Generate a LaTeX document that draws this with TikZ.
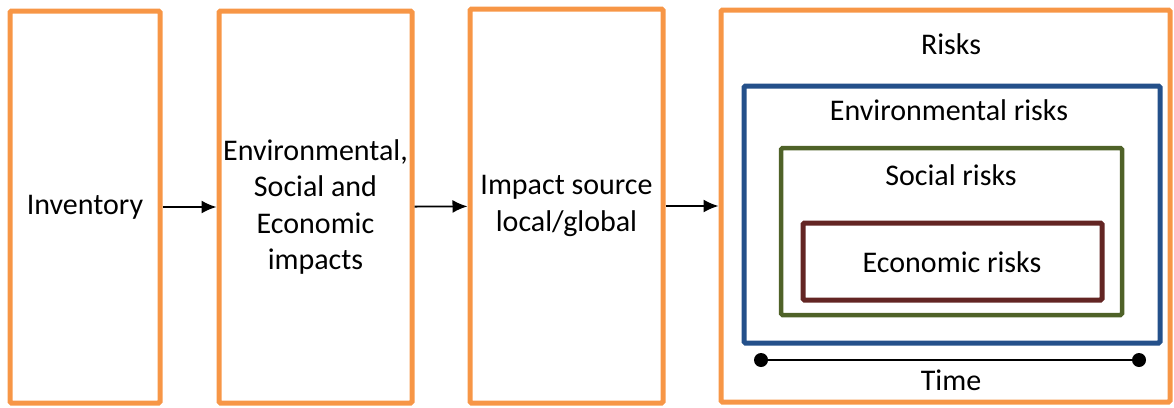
\documentclass[tikz,border=0pt]{standalone}
\usepackage{fontspec}
\setmainfont{Carlito}
\usepackage{tikz}
\usetikzlibrary{arrows.meta}

\definecolor{boxorange}{HTML}{F79646}
\definecolor{riskblue}{HTML}{24508A}
\definecolor{riskgreen}{HTML}{4F6228}
\definecolor{riskred}{HTML}{632523}

\begin{document}
\begin{tikzpicture}[x=1pt,y=-1pt]

	\tikzset{stage/.style = {shape=rectangle,draw=boxorange,line width=5pt,rounded corners=1.5pt,
			inner sep=0pt,align=center,font=\fontsize{30}{36.5}\selectfont}}
	\tikzset{riskbox/.style = {shape=rectangle,line width=5pt,rounded corners=1.5pt,inner sep=0pt}}
	\tikzset{label/.style = {inner sep=0pt,font=\fontsize{30}{36.5}\selectfont}}
	\tikzset{edge/.style = {-{Latex[length=15pt,width=13pt]},line width=1.8pt}}

	\useasboundingbox (0,0) rectangle (1174,407);

	\node[stage,minimum width=150,minimum height=392] (inv) at (85,207) {Inventory};
	\node[stage,minimum width=193,minimum height=392] (imp) at (315.5,207)
		{Environmental,\\Social and\\Economic\\impacts};
	\node[stage,minimum width=193,minimum height=394] (src) at (566.5,206)
		{Impact source\\local/global};
	\node[stage,minimum width=449,minimum height=392] (risk) at (945.5,206) {};

	\node[riskbox,draw=riskblue,minimum width=416,minimum height=257] (env) at (952,214.5) {};
	\node[riskbox,draw=riskgreen,line width=4.5pt,minimum width=341,minimum height=167] (soc) at (951.5,231.5) {};
	\node[riskbox,draw=riskred,minimum width=299,minimum height=77] (eco) at (952.5,261.5) {};

	\node[label] (risklbl) at (951,44) {Risks};
	\node[label] (envlbl) at (949,110) {Environmental risks};
	\node[label] (soclbl) at (951,175) {Social risks};
	\node[label] (ecolbl) at (952,262) {Economic risks};

	% time axis under the nested boxes
	\coordinate (t0) at (761,360);
	\coordinate (t1) at (1139,360);
	\draw[line width=1.6pt] (t0) -- (t1);
	\fill (t0) circle (7);
	\fill (t1) circle (7);
	\node[label] (time) at (951,380) {Time};

	\draw[edge] (inv) -- (imp);
	\draw[edge] (imp) -- (src);
	\draw[edge] (src) -- (risk);
\end{tikzpicture}
\end{document}
